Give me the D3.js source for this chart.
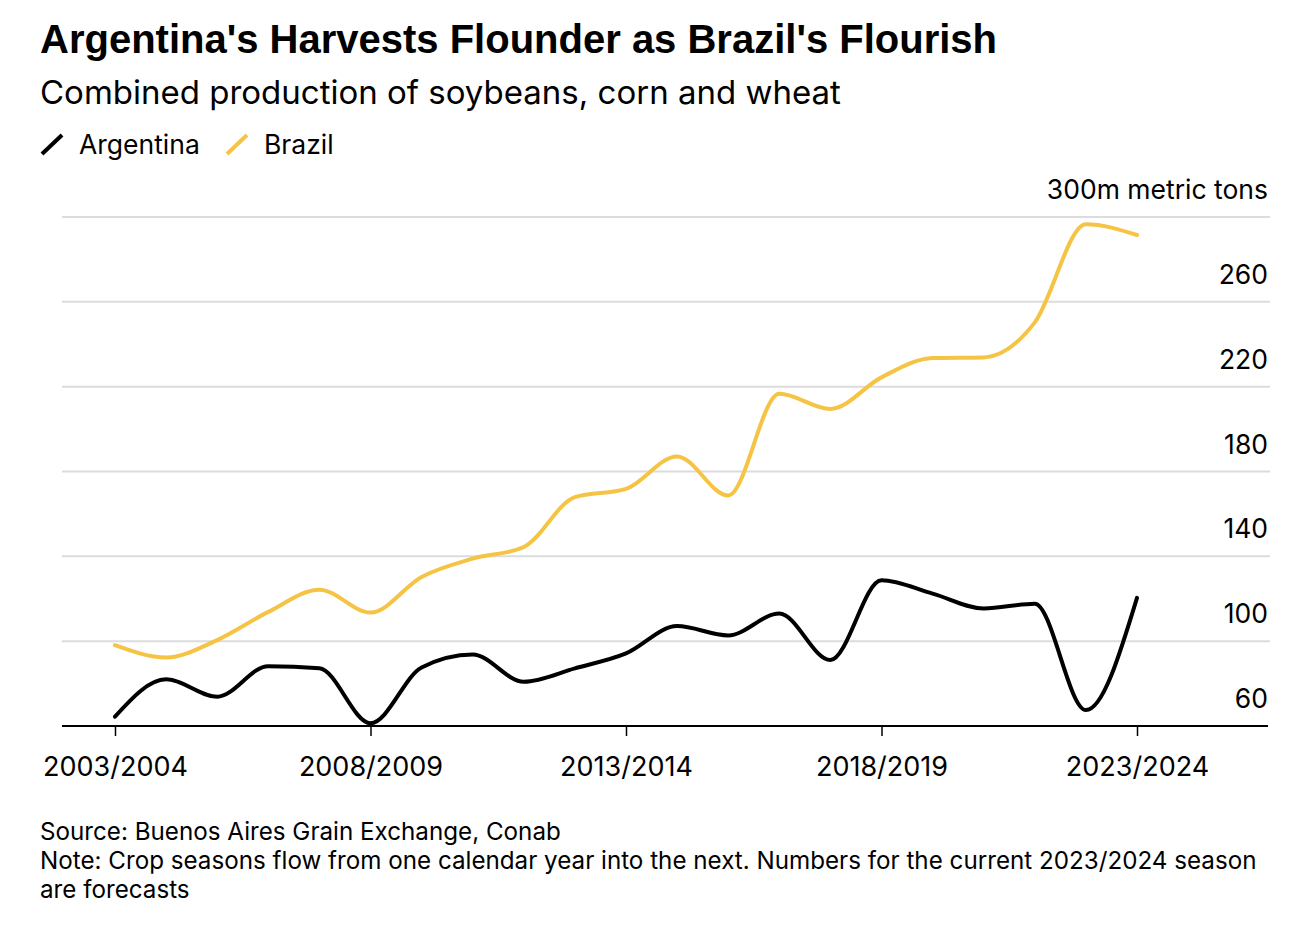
<!DOCTYPE html>
<html>
<head>
<meta charset="utf-8">
<script src="https://cdn.jsdelivr.net/npm/d3@7"></script>
<style>
  html, body { margin: 0; padding: 0; background: #fff; }
  svg { display: block; }
  text { font-family: Inter, "Liberation Sans", Arial, sans-serif; fill: #000; }
</style>
</head>
<body>
<svg id="chart" width="1312" height="926"></svg>
<script>
const seasons = ["2003/2004","2004/2005","2005/2006","2006/2007","2007/2008","2008/2009","2009/2010","2010/2011","2011/2012","2012/2013","2013/2014","2014/2015","2015/2016","2016/2017","2017/2018","2018/2019","2019/2020","2020/2021","2021/2022","2022/2023","2023/2024"];
const startYears = [2003,2004,2005,2006,2007,2008,2009,2010,2011,2012,2013,2014,2015,2016,2017,2018,2019,2020,2021,2022,2023];
const argentina = [64.4,82,73.8,88.2,87.2,61.3,87.6,93.7,80.9,87.2,94.2,107.1,102.7,113,91.1,128.7,122.4,115.4,117.7,67.5,120.4];
const brazil = [98.1,92.3,100.5,113.8,124.3,113.5,130.3,138.9,144.4,167.9,171.8,187.1,168.7,216.7,209.5,224.4,233.5,233.8,250.3,296.6,291.5];
const yTicks = [60,100,140,180,220,260,300];
const xTickYears = [2003,2008,2013,2018,2023];
const xTickLabels = ["2003/2004","2008/2009","2013/2014","2018/2019","2023/2024"];
const seriesNames = ["Argentina","Brazil"];
const seriesColors = ["#000000","#f6c445"];

const svg = d3.select("#chart");
const pLeft = 62, pRight = 1268, pTop = 217, pBottom = 726;

const x = d3.scaleLinear().domain([2003, 2023]).range([115, 1137]);
const y = d3.scaleLinear().domain([60, 300]).range([pBottom, pTop]);

// Title block
svg.append("text").attr("x", 40).attr("y", 53)
  .style("font-family", "'Liberation Sans', Arial, sans-serif")
  .style("font-size", "40px").style("font-weight", "700")
  .text("Argentina's Harvests Flounder as Brazil's Flourish");
svg.append("text").attr("x", 40).attr("y", 104)
  .style("font-size", "33px")
  .text("Combined production of soybeans, corn and wheat");

// Legend
const legendX = [42, 227];
seriesNames.forEach((n, i) => {
  const g = svg.append("g");
  g.append("line").attr("x1", legendX[i]).attr("y1", 154).attr("x2", legendX[i] + 20).attr("y2", 135)
    .attr("stroke", seriesColors[i]).attr("stroke-width", 4);
  g.append("text").attr("x", legendX[i] + 37).attr("y", 154)
    .style("font-size", "26.5px").text(n);
});

// Gridlines + y labels
const gy = svg.append("g");
gy.selectAll("line.grid").data(yTicks.filter(d => d !== 60)).enter().append("line")
  .attr("x1", pLeft).attr("x2", 1270)
  .attr("y1", d => y(d)).attr("y2", d => y(d))
  .attr("stroke", "#dcdcdc").attr("stroke-width", 2);
gy.selectAll("text.ylab").data(yTicks).enter().append("text")
  .attr("x", 1268).attr("y", d => y(d) - 18)
  .attr("text-anchor", "end")
  .style("font-size", "26.5px")
  .text(d => d === 300 ? "300m metric tons" : d);

// X axis
const xAxis = d3.axisBottom(x).tickValues(xTickYears).tickSize(10)
  .tickFormat((d, i) => xTickLabels[i]);
const gx = svg.append("g").attr("transform", `translate(0,${pBottom})`).call(xAxis);
gx.select(".domain").remove();
gx.selectAll(".tick line").attr("stroke", "#000").attr("stroke-width", 1.5);
gx.selectAll(".tick text").attr("y", 0).attr("dy", null)
  .attr("transform", "translate(0,50)")
  .style("font-size", "27px").style("font-family", "Inter, 'Liberation Sans', Arial, sans-serif").attr("fill", "#000");
svg.append("line").attr("x1", pLeft).attr("x2", pRight).attr("y1", pBottom).attr("y2", pBottom)
  .attr("stroke", "#000").attr("stroke-width", 2);

// Lines
const line = d3.line().x((d, i) => x(startYears[i])).y(d => y(d)).curve(d3.curveMonotoneX);
[brazil, argentina].forEach((s) => {
  const i = s === argentina ? 0 : 1;
  svg.append("path").datum(s)
    .attr("d", line).attr("fill", "none")
    .attr("stroke", seriesColors[i]).attr("stroke-width", 4)
    .attr("stroke-linecap", "round").attr("stroke-linejoin", "round");
});

// Footer
const foot = ["Source: Buenos Aires Grain Exchange, Conab",
  "Note: Crop seasons flow from one calendar year into the next. Numbers for the current 2023/2024 season",
  "are forecasts"];
foot.forEach((t, i) => {
  svg.append("text").attr("x", 40).attr("y", 840 + i * 29)
    .style("font-size", "24.2px").text(t);
});
</script>
</body>
</html>
